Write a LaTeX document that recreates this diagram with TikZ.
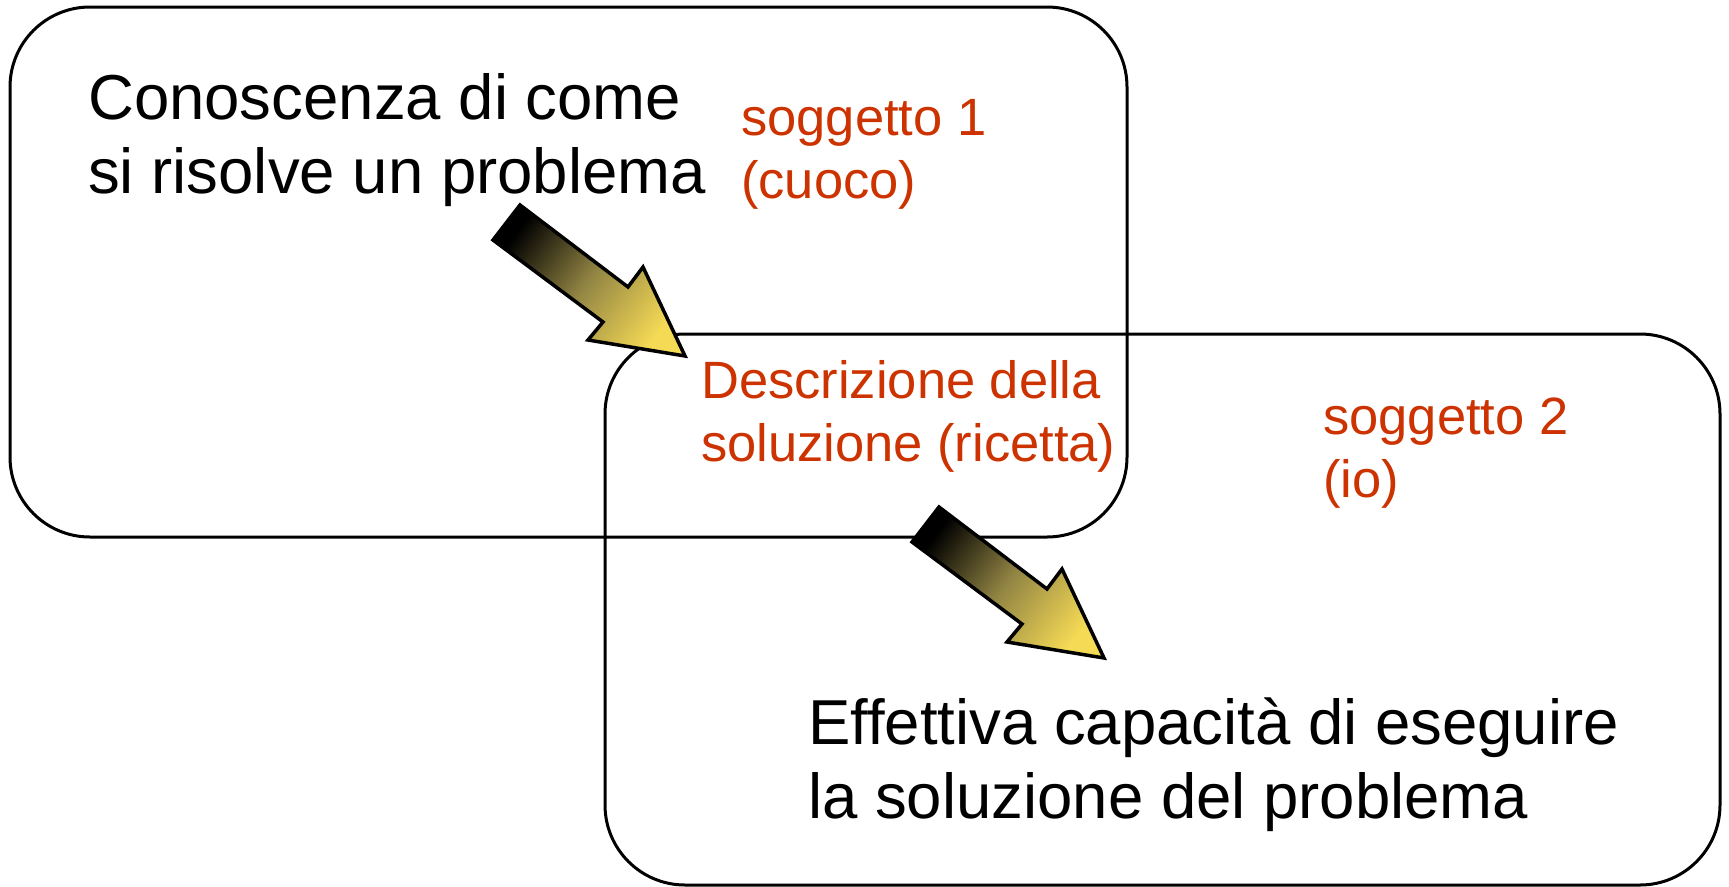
\documentclass[tikz,border=0pt]{standalone}
\usepackage{fontspec}
\setmainfont{Liberation Sans}
\definecolor{redtxt}{RGB}{204,51,0}
\definecolor{arrowyellow}{RGB}{245,218,85}
\tikzset{
  panel/.style={draw=black, line width=3pt, rounded corners=80pt},
  bigtxt/.style={anchor=base west, align=left, inner sep=0pt, text=black, font=\fontsize{63.5}{74}\selectfont},
  redlbl/.style={anchor=base west, align=left, inner sep=0pt, text=redtxt, font=\fontsize{52.5}{63}\selectfont},
  fatarrow/.style={draw=black, line width=3.5pt, line join=miter, top color=black, bottom color=arrowyellow, middle color=arrowyellow!55!black!90, shading angle=53}
}
\begin{document}
\begin{tikzpicture}[x=1pt,y=-1pt]
\useasboundingbox (0,0) rectangle (1729,886);
\fill[white] (0,0) rectangle (1729,886);
% panels
\draw[panel] (10,7) rectangle (1127,537);
\draw[panel] (605,334) rectangle (1720,885);
% texts (base anchor = baseline of last line)
\node[bigtxt] (know) at (88,193) {Conoscenza di come\\si risolve un problema};
\node[redlbl] (subj1) at (741,198) {soggetto 1\\(cuoco)};
\node[redlbl] (descr) at (701,461) {Descrizione della\\soluzione (ricetta)};
\node[redlbl] (subj2) at (1323,497) {soggetto 2\\(io)};
\node[bigtxt] (exec) at (808,818) {Effettiva capacità di eseguire\\la soluzione del problema};
% block arrows
\foreach \dx/\dy in {0/0, 419/302}{
  \begin{scope}[shift={(\dx,\dy)}]
    \draw[fatarrow] (520,205) -- (628,287) -- (643,267) -- (685,356) -- (588,340) -- (603,322) -- (493,240) -- cycle;
  \end{scope}
}
\end{tikzpicture}
\end{document}
